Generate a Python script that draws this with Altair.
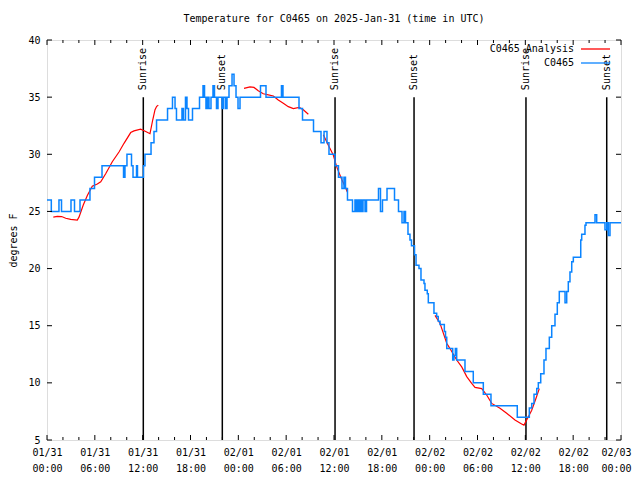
import altair as alt
import pandas as pd

# ---- data ----
blue_hours = [0, 0.54, 1.5, 1.82, 3.01, 3.45, 4.14, 5.39, 5.96, 6.9, 9.6, 9.78, 10.03, 10.6, 10.79,
              11.23, 11.35, 12.1, 12.29, 13.05, 13.42, 13.74, 15.12, 15.74, 16.06, 16.24, 16.93,
              17.12, 17.37, 17.56, 17.75, 18.25, 19.13, 19.57, 19.76, 19.94, 20.13, 20.32, 20.57,
              20.82, 21.01, 21.26, 21.45, 21.95, 22.14, 22.39, 22.58, 22.83, 23.21, 23.46, 23.71,
              23.96, 24.21, 26.78, 27.47, 29.41, 29.6, 31.61, 32.05, 33.43, 34.37, 34.75, 35.12,
              35.37, 36.13, 36.56, 37.0, 37.25, 37.44, 37.69, 38.32, 38.63, 38.82, 39.01, 39.2,
              39.32, 39.45, 39.64, 39.89, 40.08, 41.58, 41.83, 42.08, 42.65, 43.59, 44.09, 44.53,
              44.78, 44.97, 45.28, 45.53, 45.72, 46.1, 46.29, 46.66, 46.91, 47.29, 47.41, 47.7,
              47.83, 48.54, 48.88, 49.08, 49.3, 49.84, 49.99, 50.14, 50.89, 51.05, 51.22, 51.39,
              52.43, 53.47, 54.73, 55.69, 58.99, 60.5, 60.8, 61.09, 61.43, 61.63, 61.93, 62.34,
              62.59, 63.01, 63.31, 63.72, 64.01, 64.26, 64.98, 65.19, 65.39, 65.6, 65.82, 66.02,
              66.95, 67.07, 67.48, 67.61, 68.74, 68.95, 69.99, 70.21, 70.41, 70.62, 72]
blue_temps = [26, 25, 26, 25, 26, 25, 26, 27, 28, 29, 28, 29, 30, 29, 28,
              29, 28, 29, 30, 31, 32, 33, 34, 35, 34, 33, 34,
              33, 35, 34, 33, 34, 35, 36, 35, 34, 35, 34, 35,
              36, 35, 34, 35, 34, 35, 34, 35, 36, 37, 36, 35,
              34, 35, 36, 35, 36, 35, 34, 33, 32, 31, 32, 31,
              30, 29, 28, 27, 28, 27, 26, 25, 26, 25, 26, 25,
              26, 25, 26, 25, 26, 27, 25, 26, 27, 26, 25, 24,
              25, 24, 23, 22.5, 22, 21.2, 20.3, 20, 19, 18.7, 18.1, 17.8,
              17, 16.1, 15.8, 15.4, 15.1, 14.5, 14, 13, 12, 12.4, 13, 12,
              11, 10, 9, 8, 7, 7.8, 8.2, 9, 9.5, 10, 10.8, 12,
              13, 14, 15, 16, 17, 18, 17, 18, 18.85, 19.7, 20.6, 21,
              22.5, 23, 23.8, 24, 24.7, 24, 23.4, 24, 22.9, 24, 24]

red_seg = [1] * 25 + [2] * 14 + [3] * 7 + [4] * 21
red_hours = [0.79, 1.29, 1.84, 2.35, 2.97, 3.8, 4.01, 4.55, 5.06, 5.68, 6.31, 6.74, 7.36, 8.19,
             9.03, 9.66, 10.5, 10.91, 11.75, 12.38, 12.92, 13.26, 13.55, 13.76, 13.96,
             24.71, 25.46, 25.96, 26.5, 27.13, 27.76, 28.39, 29.01, 29.64, 30.27, 30.9, 31.65,
             32.15, 32.78,
             34.66, 35.29, 35.91, 36.34, 36.97, 37.38, 37.67,
             48.67, 49.3, 50.14, 50.55, 51.39, 52.02, 52.65, 53.27, 53.69, 54.53, 55.15, 55.78,
             56.82, 57.66, 58.7, 59.54, 59.83, 60.17, 60.8, 61.34, 61.75]
red_temps = [24.5, 24.56, 24.55, 24.4, 24.3, 24.25, 24.5, 25.56, 26.4, 27.2, 27.4, 27.6, 28.3,
             29.35, 30.2, 30.96, 31.9, 32.05, 32.2, 32.0, 31.8, 33.0, 33.9, 34.2, 34.3,
             35.77, 35.9, 35.85, 35.56, 35.3, 35.2, 35.1, 34.75, 34.46, 34.17, 34.0, 34.1,
             33.9, 33.5,
             31.7, 30.8, 29.94, 28.9, 27.8, 27.2, 26.7,
             15.9, 15.2, 13.46, 13.0, 12.0, 11.4, 10.55, 9.96, 9.6, 9.5, 8.94, 8.2,
             7.78, 7.34, 6.75, 6.4, 6.3, 6.75, 7.6, 8.65, 9.5]

event_hours = [12.08, 21.99, 36.13, 46.04, 60.08, 70.21]
event_names = ["Sunrise", "Sunset", "Sunrise", "Sunset", "Sunrise", "Sunset"]
event_low = [5, 5, 5, 5, 5, 5]
event_top = [35, 35, 35, 35, 35, 35]

major_x = list(range(0, 73, 6))
minor_x = [h for h in range(0, 73, 2) if h % 6]
y_ticks = [5, 10, 15, 20, 25, 30, 35, 40]
date_labels = ["01/31", "01/31", "01/31", "01/31", "02/01", "02/01", "02/01", "02/01",
               "02/02", "02/02", "02/02", "02/02", "02/03"]
time_labels = ["00:00", "06:00", "12:00", "18:00", "00:00", "06:00", "12:00", "18:00",
               "00:00", "06:00", "12:00", "18:00", "00:00"]

series_names = ["C0465 Analysis", "C0465"]
series_colors = ["#ff0000", "#0a84ff"]

FONT = "DejaVu Sans Mono"
W, H = 574, 400

blue_df = pd.DataFrame({"hour": blue_hours, "temp": blue_temps})
red_df = pd.DataFrame({"hour": red_hours, "temp": red_temps, "seg": red_seg})
ev_df = pd.DataFrame({"hour": event_hours, "name": event_names,
                      "temp": event_low, "top": event_top})
major_df = pd.DataFrame({"hour": major_x})
minor_df = pd.DataFrame({"hour": minor_x})
ytick_df = pd.DataFrame({"temp": y_ticks})

xscale = alt.Scale(domain=[0, 72], nice=False, zero=False)
yscale = alt.Scale(domain=[5, 40], nice=False, zero=False)

label_expr = ("[" + str(date_labels) + "[round(datum.value/6)], "
              + str(time_labels) + "[round(datum.value/6)]]")

x_axis = alt.Axis(values=major_x, labelExpr=label_expr, ticks=False, domain=False, grid=False,
                  title=None, labelPadding=7, labelLineHeight=16, labelFontSize=10,
                  labelFont=FONT, labelColor="black", labelAngle=0, labelFlush=False,
                  labelOverlap=False, labelBound=False,
                  labelOffset={"condition": {"test": "datum.value >= 72", "value": -5},
                               "value": 0})
y_axis = alt.Axis(values=y_ticks, ticks=False, domain=False, grid=False, title="degrees F",
                  labelPadding=7, labelFontSize=10, labelFont=FONT, labelColor="black",
                  labelFlush=False, labelOverlap=False, labelBound=False,
                  titleFont=FONT, titleFontSize=10, titleFontWeight="normal",
                  titleColor="black", titlePadding=9)

X = alt.X("hour:Q", scale=xscale, axis=x_axis)
Y = alt.Y("temp:Q", scale=yscale, axis=y_axis)

events = alt.Chart(ev_df).mark_rule(color="black", strokeWidth=1.5).encode(
    x=X, y=Y, y2="top:Q")
event_text = alt.Chart(ev_df).mark_text(
    angle=270, align="left", baseline="middle", dx=7, font=FONT, fontSize=10, color="black"
).encode(x=X, y=alt.Y("top:Q", scale=yscale, axis=y_axis), text="name:N")

red = alt.Chart(red_df).mark_line(color=series_colors[0], strokeWidth=1.2).encode(
    x=X, y=Y, detail="seg:N")
blue = alt.Chart(blue_df).mark_line(color=series_colors[1], strokeWidth=1.5,
                                    interpolate="step-after").encode(x=X, y=Y)

# inward tick marks (gnuplot style)
tb_major = alt.Chart(major_df).mark_rule(color="black", strokeWidth=1).encode(
    x=X, y=alt.value(H), y2=alt.value(H - 5))
tt_major = alt.Chart(major_df).mark_rule(color="black", strokeWidth=1).encode(
    x=X, y=alt.value(0), y2=alt.value(5))
tb_minor = alt.Chart(minor_df).mark_rule(color="black", strokeWidth=1).encode(
    x=X, y=alt.value(H), y2=alt.value(H - 3))
tt_minor = alt.Chart(minor_df).mark_rule(color="black", strokeWidth=1).encode(
    x=X, y=alt.value(0), y2=alt.value(3))
tl = alt.Chart(ytick_df).mark_rule(color="black", strokeWidth=1).encode(
    y=Y, x=alt.value(0), x2=alt.value(5))
tr = alt.Chart(ytick_df).mark_rule(color="black", strokeWidth=1).encode(
    y=Y, x=alt.value(W), x2=alt.value(W - 5))

# legend (top right, gnuplot style: text then line sample)
leg = []
for i, (name, col) in enumerate(zip(series_names, series_colors)):
    ldf = pd.DataFrame({"name": [name]})
    yy = 9 + 14 * i
    leg.append(alt.Chart(ldf).mark_text(align="right", baseline="middle", font=FONT,
                                        fontSize=10, color="black").encode(
        x=alt.value(527), y=alt.value(yy), text="name:N"))
    leg.append(alt.Chart(ldf).mark_rule(color=col, strokeWidth=1.3).encode(
        x=alt.value(534), x2=alt.value(563), y=alt.value(yy)))

chart = alt.layer(
    events, event_text, red, blue, tb_major, tt_major, tb_minor, tt_minor, tl, tr, *leg
).properties(
    width=W, height=H,
    title=alt.TitleParams("Temperature for C0465 on 2025-Jan-31 (time in UTC)", font=FONT,
                          fontSize=10, fontWeight="normal", color="black", offset=11,
                          anchor="middle"),
    autosize=alt.AutoSizeParams(type="none"),
    padding={"left": 39, "top": 32, "right": 11, "bottom": 32},
).configure_view(stroke="black", strokeWidth=1).configure(background="white")

chart.save("out.html", embed_options={"renderer": "svg", "actions": False})
